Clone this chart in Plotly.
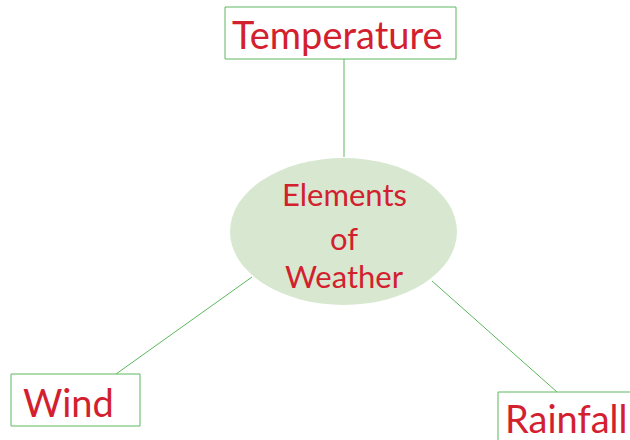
import plotly.graph_objects as go

# Diagram content
center_label = ["Elements", "of", "Weather"]
node_labels = ["Temperature", "Wind", "Rainfall"]
# node box extents (x0, x1, y0, y1) in pixel-like coordinates (y down)
node_boxes = [(225, 456, 7, 59), (11, 140, 374, 426), (498, 650, 392, 460)]
node_text_pos = [(337, 34), (68, 402), (566, 418)]
# connector lines (x0, y0, x1, y1)
connectors = [(344, 59, 344, 157), (116, 374, 252, 277), (432, 281, 557, 392)]
ellipse = (230, 457, 158, 305)
center_text_y = [194, 238, 276]

RED = "#d3202e"
GREEN = "#5cb85c"
FILL = "#d8e8d0"
FONT = "Lato"

fig = go.Figure()

for (x0, y0, x1, y1) in connectors:
    fig.add_trace(go.Scatter(x=[x0, x1], y=[y0, y1], mode="lines",
                             line=dict(color=GREEN, width=1), hoverinfo="skip",
                             showlegend=False))

shapes = []
for (x0, x1, y0, y1) in node_boxes:
    shapes.append(dict(type="rect", x0=x0, x1=x1, y0=y0, y1=y1, xref="x", yref="y",
                       line=dict(color=GREEN, width=1), fillcolor="white", layer="above"))
ex0, ex1, ey0, ey1 = ellipse
shapes.append(dict(type="circle", x0=ex0, x1=ex1, y0=ey0, y1=ey1, xref="x", yref="y",
                   line=dict(width=0), fillcolor=FILL, layer="above"))

annotations = []
for lab, (tx, ty) in zip(node_labels, node_text_pos):
    annotations.append(dict(x=tx, y=ty, xref="x", yref="y", text=lab, showarrow=False,
                            font=dict(family=FONT, size=38, color=RED)))
for lab, ty in zip(center_label, center_text_y):
    annotations.append(dict(x=344, y=ty, xref="x", yref="y", text=lab, showarrow=False,
                            font=dict(family=FONT, size=31, color=RED)))

fig.update_layout(
    width=630, height=440,
    margin=dict(l=0, r=0, t=0, b=0),
    paper_bgcolor="white", plot_bgcolor="white",
    xaxis=dict(range=[0, 630], visible=False, fixedrange=True),
    yaxis=dict(range=[440, 0], visible=False, fixedrange=True),
    shapes=shapes, annotations=annotations,
    showlegend=False,
)

fig.write_html("out.html", config={"displayModeBar": False},
               post_script="document.body.style.margin='0';document.body.style.overflow='hidden';")
